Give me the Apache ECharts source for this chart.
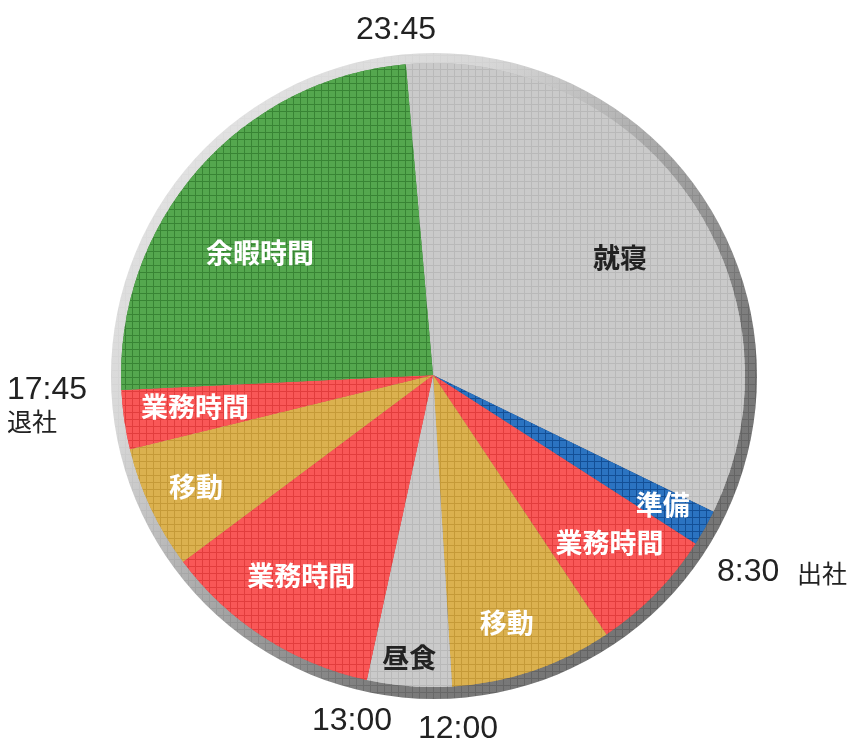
<!DOCTYPE html>
<html><head><meta charset="utf-8">
<script src="https://cdn.jsdelivr.net/npm/echarts@6/dist/echarts.min.js"></script>
<style>html,body{margin:0;padding:0;background:#fff}#c{width:852px;height:750px}</style>
</head><body><div id="c"></div>
<script>
// Data (minutes per activity, clockwise from 23:45)
const categories = ['就寝', '準備', '業務時間', '移動', '昼食', '業務時間', '移動', '業務時間', '余暇時間'];
const minutes = [484, 27, 94, 121, 63, 164, 92, 44, 351];
const kinds = ['sleep', 'prep', 'work', 'move', 'lunch', 'work', 'move', 'work', 'leisure'];
const timeLabels = ['23:45', '17:45', '退社', '8:30', '出社', '13:00', '12:00'];

// Style
const CX = 433, CY = 375, R = 312;
const cellColors = { sleep: '#cacaca', lunch: '#cacaca', prep: '#2b73c1', work: '#f95757', move: '#dbb14f', leisure: '#54a74e' };
const lineColors = { sleep: '#b9b9b9', lunch: '#b9b9b9', prep: '#134f96', work: '#e23d3d', move: '#c59a38', leisure: '#388434' };
const textColors = { sleep: '#222', lunch: '#222', prep: '#fff', work: '#fff', move: '#fff', leisure: '#fff' };
const labelRadius = [0.707, 0.845, 0.78, 0.827, 0.91, 0.77, 0.84, 0.77, 0.68];
const labelTurn = [2.5, 0, -1, 2, 0.4, 0.5, 0, 0.6, -5.8];

const chart = echarts.init(document.getElementById('c'), null, { renderer: 'canvas' });

const data = categories.map((name, i) => {
  const k = kinds[i];
  return {
    name: name,
    value: minutes[i],
    itemStyle: {
      color: lineColors[k],
      decal: { symbol: 'rect', symbolSize: 1, dashArrayX: [[6, 1]], dashArrayY: [6, 1], color: cellColors[k] }
    },
    label: { color: textColors[k] }
  };
});

const digitFont = { fontFamily: 'Liberation Sans', fontSize: 32, fill: '#222' };
const cjkFont = { fontFamily: 'Noto Sans CJK JP', fontSize: 25, fill: '#222' };

chart.setOption({
  animation: false,
  backgroundColor: '#fff',
  series: [
    {
      type: 'pie',
      silent: true,
      center: [CX + 1, CY + 1],
      radius: R + 11,
      z: 1,
      label: { show: false },
      labelLine: { show: false },
      data: [{
        value: 1,
        itemStyle: {
          color: { type: 'linear', x: 0, y: 0, x2: 1, y2: 1,
            colorStops: [{ offset: 0, color: '#e8e8e8' }, { offset: 0.3, color: '#d2d2d2' }, { offset: 0.5, color: '#9c9c9c' }, { offset: 0.7, color: '#6a6a6a' }, { offset: 1, color: '#5a5a5a' }] },
          decal: { symbol: 'rect', symbolSize: 1, dashArrayX: [[6, 1]], dashArrayY: [6, 1], color: 'rgba(255,255,255,0.12)' }
        }
      }]
    },
    {
      type: 'pie',
      center: [CX, CY],
      radius: R,
      z: 2,
      startAngle: 95,
      clockwise: true,
      avoidLabelOverlap: false,
      emphasis: { disabled: true },
      itemStyle: { borderWidth: 0 },
      label: {
        show: true,
        position: 'inside',
        rotate: 0,
        formatter: '{b}',
        fontFamily: 'Noto Sans CJK JP',
        fontSize: 27,
        fontWeight: 'bold'
      },
      labelLine: { show: false },
      labelLayout: function (p) {
        const r = p.labelRect;
        const lx = r.x + r.width / 2, ly = r.y + r.height / 2;
        let vx = lx - CX, vy = ly - CY;
        const th = labelTurn[p.dataIndex] * Math.PI / 180;
        const rx = vx * Math.cos(th) - vy * Math.sin(th);
        const ry = vx * Math.sin(th) + vy * Math.cos(th);
        const len = Math.hypot(rx, ry) || 1;
        const t = labelRadius[p.dataIndex] * R / len;
        return { x: CX + rx * t, y: CY + ry * t, align: 'center', verticalAlign: 'middle' };
      },
      data: data
    }
  ],
  graphic: [
    { type: 'text', style: Object.assign({ text: timeLabels[0], x: 396, y: 30, textAlign: 'center', textVerticalAlign: 'middle' }, digitFont) },
    { type: 'text', style: Object.assign({ text: timeLabels[1], x: 7, y: 390, textAlign: 'left', textVerticalAlign: 'middle' }, digitFont) },
    { type: 'text', style: Object.assign({ text: timeLabels[2], x: 7, y: 421, textAlign: 'left', textVerticalAlign: 'middle' }, cjkFont) },
    { type: 'text', style: Object.assign({ text: timeLabels[3], x: 717, y: 572, textAlign: 'left', textVerticalAlign: 'middle' }, digitFont) },
    { type: 'text', style: Object.assign({ text: timeLabels[4], x: 797, y: 573, textAlign: 'left', textVerticalAlign: 'middle' }, cjkFont) },
    { type: 'text', style: Object.assign({ text: timeLabels[5], x: 312, y: 721, textAlign: 'left', textVerticalAlign: 'middle' }, digitFont) },
    { type: 'text', style: Object.assign({ text: timeLabels[6], x: 418, y: 729, textAlign: 'left', textVerticalAlign: 'middle' }, digitFont) }
  ]
});
</script>
</body></html>
